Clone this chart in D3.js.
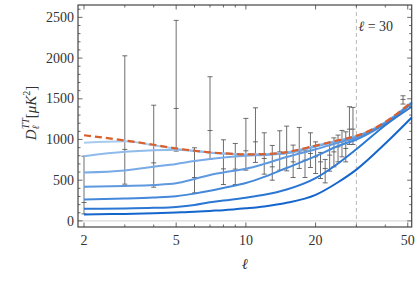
<!DOCTYPE html>
<html>
<head>
<meta charset="utf-8">
<script src="https://cdn.jsdelivr.net/npm/d3@7"></script>
<style>
  body { margin: 0; background: #fff; }
  svg { display: block; }
  text { font-family: "Liberation Serif", "DejaVu Serif", serif; fill: #333; }
</style>
</head>
<body>
<div class="chart"></div>
<script>
var svgWidth = 417;
var svgHeight = 286;

var margin = { top: 5, right: 5.3, bottom: 59, left: 78 };

var width = svgWidth - margin.left - margin.right;
var height = svgHeight - margin.top - margin.bottom;

// Planck low-ell points: multipole, value, lower and upper limit
var ells = [2, 3, 4, 5, 6, 7, 8, 9, 10, 11, 12, 13, 14, 15, 16, 17, 18, 19, 20, 21, 22, 23, 24, 25, 26, 27, 28, 29];
var dl   = [226, 878, 713, 1381, 533, 1110, 639, 636, 861, 971, 767, 664, 848, 828, 725, 848, 746, 828, 787, 725, 644, 808, 848, 910, 971, 890, 1127, 1127];
var dlLo = [86, 451, 414, 857, 344, 755, 447, 447, 623, 718, 574, 500, 623, 615, 533, 644, 533, 656, 582, 521, 467, 611, 664, 725, 787, 725, 939, 939];
var dlHi = [795, 2028, 1421, 2463, 898, 1771, 996, 951, 1259, 1389, 1082, 927, 1107, 1164, 931, 1148, 861, 1082, 971, 841, 755, 964, 1020, 1054, 1111, 1094, 1402, 1394];

// first binned point
var binEll = [47.7];
var binDl = [1492];
var binLo = [1435];
var binHi = [1537];

// model curves sampled at these multipoles
var curveEll = [2, 3, 4, 5, 6, 7, 8, 10, 12, 15, 20, 25, 30, 40, 52];
var lcdm  = [1052, 988, 935, 890, 862, 842, 830, 818, 820, 845, 925, 990, 1045, 1215, 1462];
var cut1 = [959, 978, 930, 887, 860, 840, 828, 816, 818, 843, 922, 987, 1042, 1212, 1458];
var cut2 = [795, 848, 868, 875, 858, 838, 826, 814, 816, 840, 920, 985, 1040, 1210, 1455];
var cut3 = [595, 620, 665, 700, 735, 760, 778, 800, 810, 830, 912, 980, 1036, 1207, 1452];
var cut4 = [418, 430, 442, 462, 515, 565, 595, 640, 700, 785, 880, 960, 1025, 1200, 1448];
var cut5 = [263, 275, 288, 304, 335, 370, 405, 465, 540, 650, 795, 920, 1000, 1195, 1442];
var cut6 = [148, 152, 160, 172, 195, 228, 250, 285, 320, 385, 525, 705, 880, 1175, 1402];
var cut7 = [79, 86, 93, 103, 112, 123, 132, 155, 178, 222, 320, 475, 630, 950, 1270];
var cutSeries = [cut1, cut2, cut3, cut4, cut5, cut6, cut7];
var cutColors = ["#a9cbf0", "#90bbeb", "#77aae6", "#5e99e0", "#4488da", "#2c77d3", "#1566cc"];

var xMajor = [2, 5, 10, 20, 50];
var xMinor = [3, 4, 6, 7, 8, 9, 30, 40];
var yMajor = [0, 500, 1000, 1500, 2000, 2500];
var yMinor = d3.range(0, 2700, 100);
var ellCut = 30;

var svg = d3.select(".chart")
  .append("svg")
  .attr("width", svgWidth)
  .attr("height", svgHeight);

var chartGroup = svg.append("g")
  .attr("transform", `translate(${margin.left}, ${margin.top})`);

var xScale = d3.scaleLog()
  .domain([1.884, 52])
  .range([0, width]);

var yScale = d3.scaleLinear()
  .domain([-75, 2652])
  .range([height, 0]);

// zero line
chartGroup.append("line")
  .attr("x1", 0)
  .attr("x2", width)
  .attr("y1", yScale(0))
  .attr("y2", yScale(0))
  .attr("stroke", "#d0d0d0")
  .attr("stroke-width", 1);

// ell = 30 marker
chartGroup.append("line")
  .attr("x1", xScale(ellCut))
  .attr("x2", xScale(ellCut))
  .attr("y1", 0)
  .attr("y2", height)
  .attr("stroke", "#b8b8b8")
  .attr("stroke-width", 1)
  .attr("stroke-dasharray", "4,3");

var cutText = chartGroup.append("text")
  .attr("x", xScale(ellCut) + 2)
  .attr("y", 26)
  .attr("font-size", "14px");
cutText.append("tspan").attr("font-style", "italic").text("ℓ");
cutText.append("tspan").text(" = 30");

// error bars
var points = ells.map(function(l, i) {
  return { l: l, v: dl[i], lo: dlLo[i], hi: dlHi[i] };
}).concat(binEll.map(function(l, i) {
  return { l: l, v: binDl[i], lo: binLo[i], hi: binHi[i] };
}));

var barGroup = chartGroup.append("g")
  .attr("stroke", "#555")
  .attr("stroke-width", 1)
  .attr("stroke-opacity", 0.85);

var capW = 2.5;
points.forEach(function(d) {
  var x = xScale(d.l);
  barGroup.append("line")
    .attr("x1", x).attr("x2", x)
    .attr("y1", yScale(d.lo)).attr("y2", yScale(d.hi));
  [d.lo, d.v, d.hi].forEach(function(v) {
    barGroup.append("line")
      .attr("x1", x - capW).attr("x2", x + capW)
      .attr("y1", yScale(v)).attr("y2", yScale(v));
  });
});

// model curves
var line = d3.line()
  .x(function(d) { return xScale(d[0]); })
  .y(function(d) { return yScale(d[1]); })
  .curve(d3.curveMonotoneX);

cutSeries.forEach(function(series, i) {
  chartGroup.append("path")
    .datum(curveEll.map(function(l, j) { return [l, series[j]]; }))
    .attr("d", line)
    .attr("fill", "none")
    .attr("stroke", cutColors[i])
    .attr("stroke-width", 2);
});

chartGroup.append("path")
  .datum(curveEll.map(function(l, j) { return [l, lcdm[j]]; }))
  .attr("d", line)
  .attr("fill", "none")
  .attr("stroke", "#d9602c")
  .attr("stroke-width", 2.2)
  .attr("stroke-dasharray", "7,4");

// frame and inward ticks
var frameColor = "#444";
chartGroup.append("rect")
  .attr("width", width)
  .attr("height", height)
  .attr("fill", "none")
  .attr("stroke", frameColor)
  .attr("stroke-width", 1.2);

var tickGroup = chartGroup.append("g")
  .attr("stroke", frameColor)
  .attr("stroke-width", 0.8);

function xTick(l, len) {
  var x = xScale(l);
  tickGroup.append("line").attr("x1", x).attr("x2", x).attr("y1", height).attr("y2", height - len);
  tickGroup.append("line").attr("x1", x).attr("x2", x).attr("y1", 0).attr("y2", len);
}
function yTick(v, len) {
  var y = yScale(v);
  tickGroup.append("line").attr("x1", 0).attr("x2", len).attr("y1", y).attr("y2", y);
  tickGroup.append("line").attr("x1", width).attr("x2", width - len).attr("y1", y).attr("y2", y);
}
xMajor.forEach(function(l) { xTick(l, 4.5); });
xMinor.forEach(function(l) { xTick(l, 2.5); });
yMinor.forEach(function(v) { yTick(v, yMajor.indexOf(v) >= 0 ? 4.5 : 2.5); });

// tick labels
chartGroup.selectAll(".xlab")
  .data(xMajor)
  .enter()
  .append("text")
  .attr("x", d => xScale(d))
  .attr("y", height + 18)
  .attr("text-anchor", "middle")
  .attr("font-size", "14px")
  .text(d => d);

chartGroup.selectAll(".ylab")
  .data(yMajor)
  .enter()
  .append("text")
  .attr("x", -4)
  .attr("y", d => yScale(d) + 4.7)
  .attr("text-anchor", "end")
  .attr("font-size", "14px")
  .text(d => d);

// axis titles
chartGroup.append("text")
  .attr("x", width / 2)
  .attr("y", height + 42)
  .attr("text-anchor", "middle")
  .attr("font-size", "15px")
  .attr("font-style", "italic")
  .text("ℓ");

var yTitle = svg.append("text")
  .attr("transform", "translate(36, 113) rotate(-90)")
  .attr("text-anchor", "middle")
  .attr("font-size", "15px");
yTitle.append("tspan").attr("font-style", "italic").text("D");
yTitle.append("tspan").attr("font-style", "italic").attr("font-size", "10px").attr("dy", 3).text("ℓ");
yTitle.append("tspan").attr("font-style", "italic").attr("font-size", "10px").attr("dx", -4).attr("dy", -10).text("TT");
yTitle.append("tspan").attr("dy", 7).text("[");
yTitle.append("tspan").attr("font-style", "italic").text("μK");
yTitle.append("tspan").attr("font-size", "10px").attr("dy", -6).text("2");
yTitle.append("tspan").attr("dy", 6).text("]");
</script>
</body>
</html>
